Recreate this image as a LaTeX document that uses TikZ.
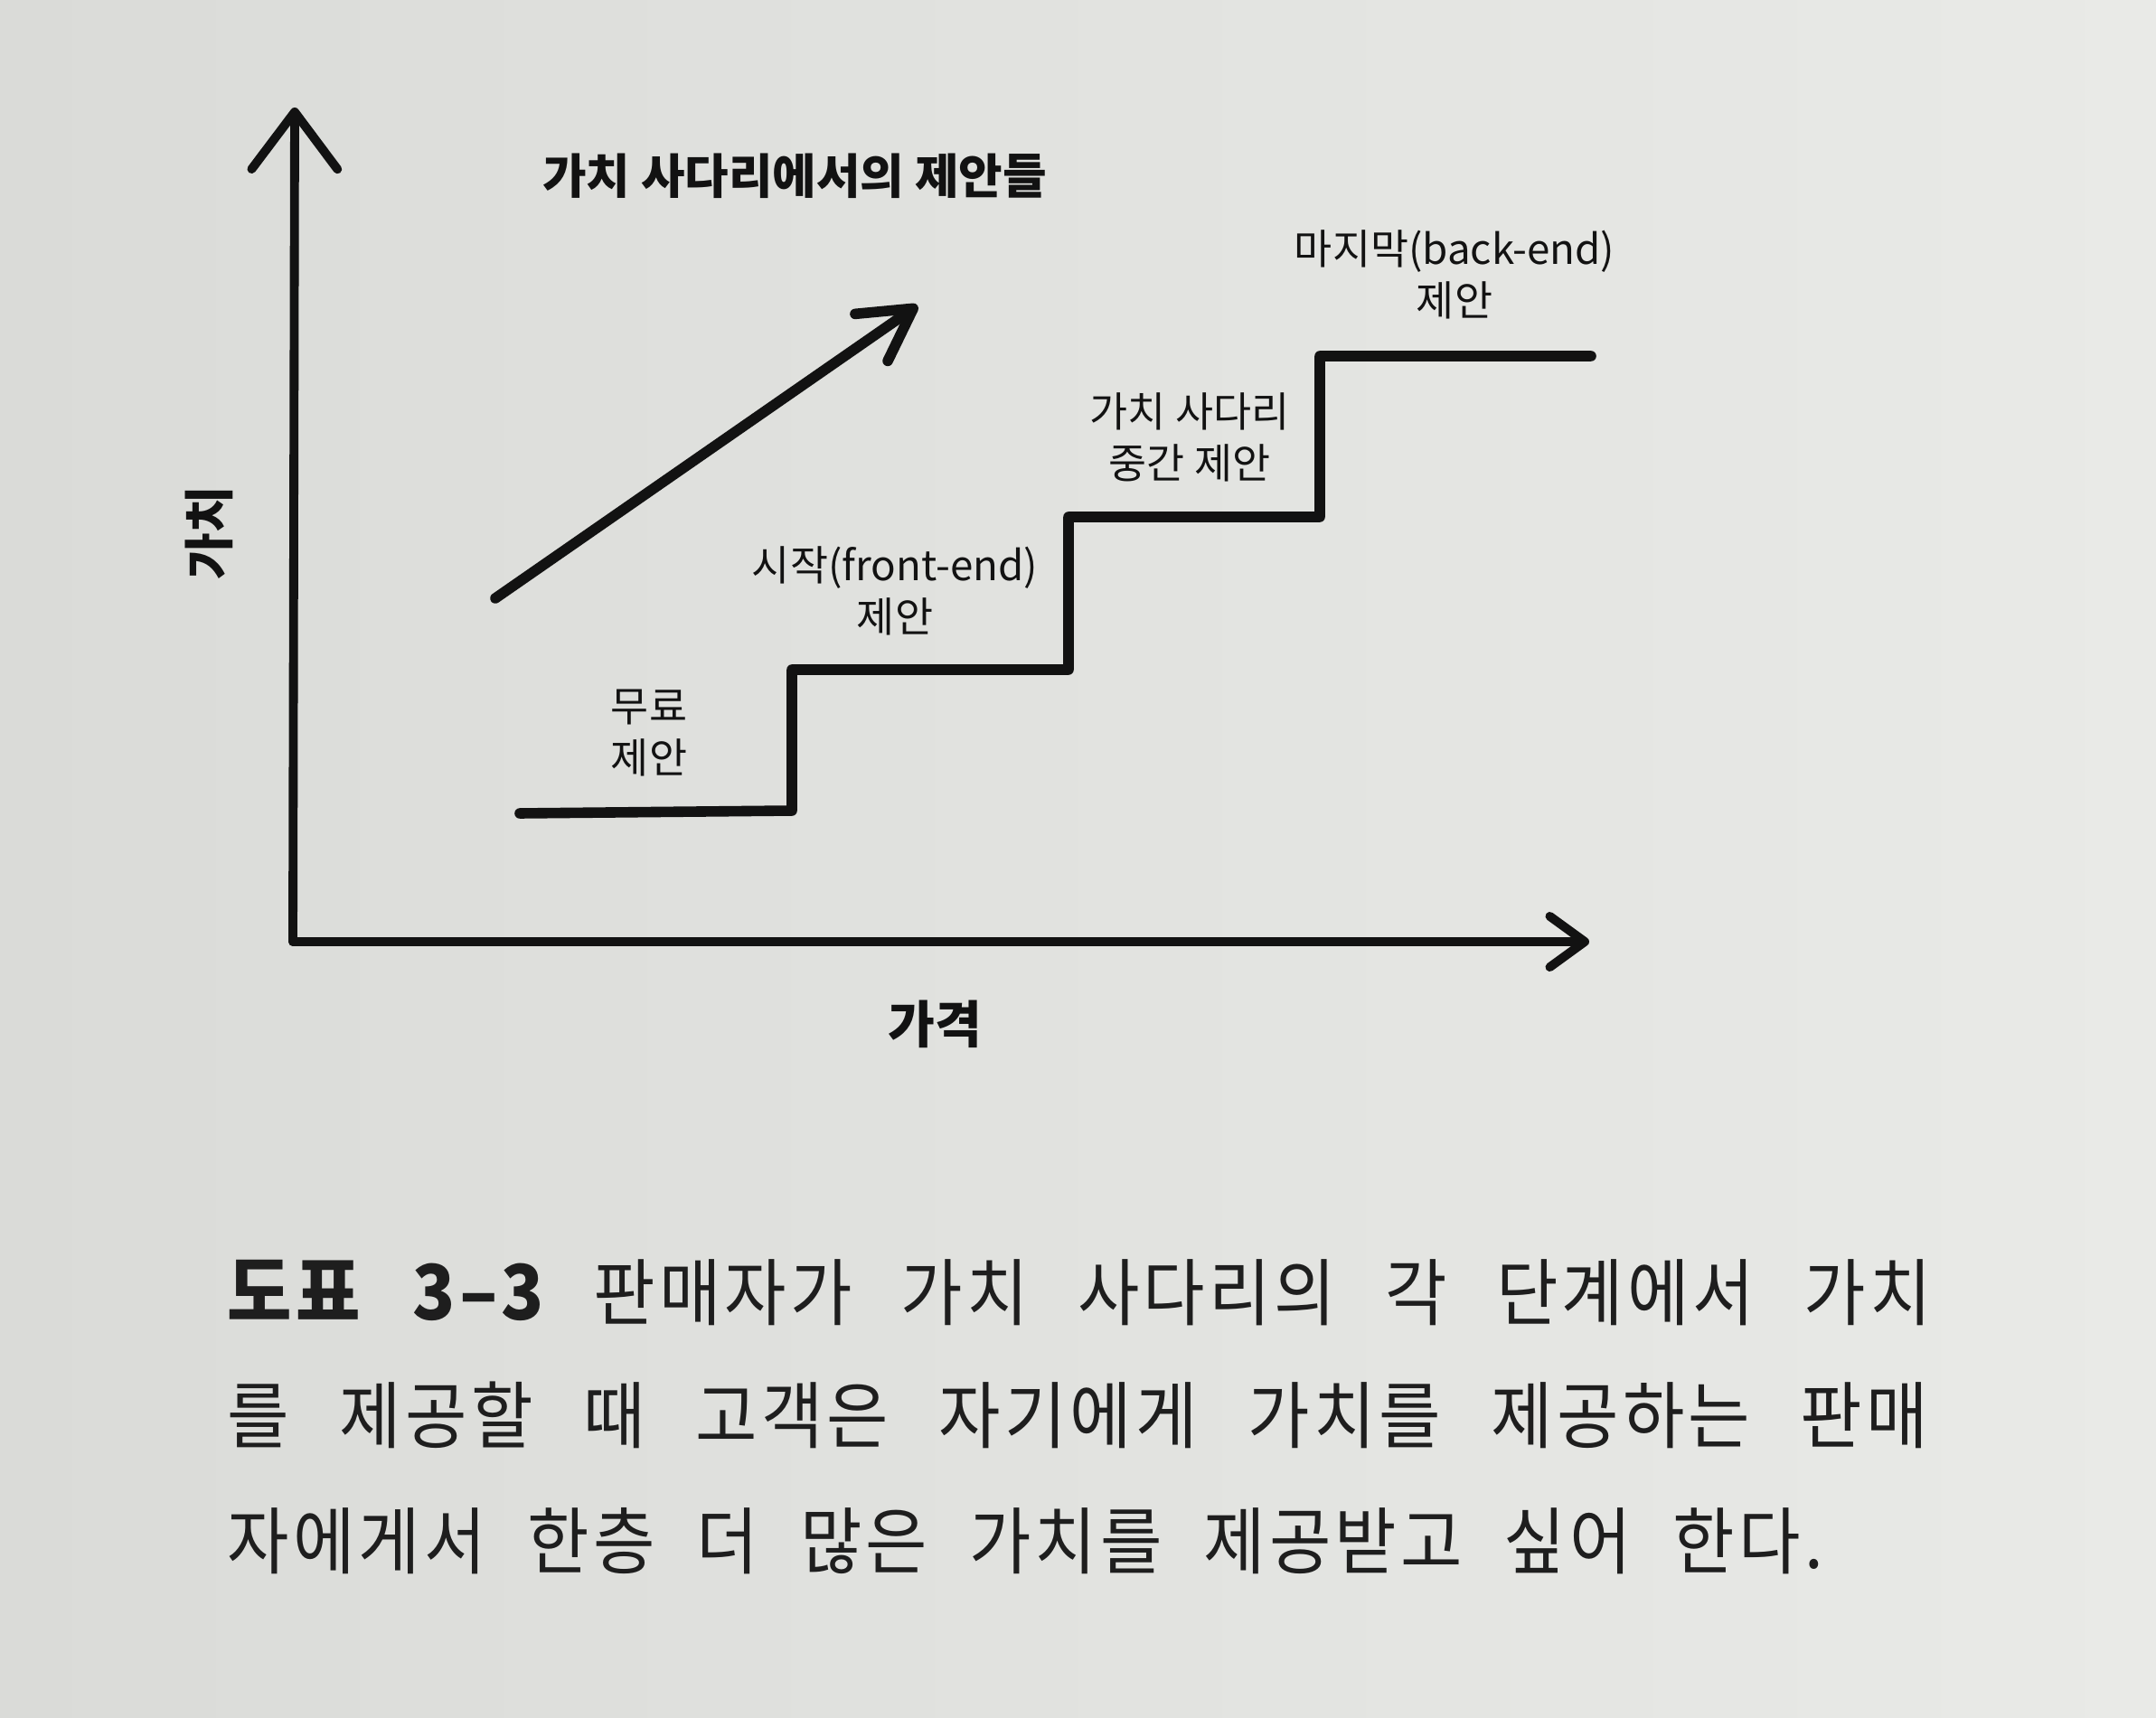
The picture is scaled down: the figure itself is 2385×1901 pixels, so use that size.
\documentclass[tikz,border=0pt]{standalone}
\usepackage{fontspec}
\setmainfont{Noto Sans CJK KR}
\newfontfamily\capfont{Noto Sans CJK KR}[FakeStretch=0.92, LetterSpace=5]
\usetikzlibrary{arrows.meta,positioning}
\definecolor{paperl}{RGB}{218,219,216}
\definecolor{paperr}{RGB}{233,234,231}
\definecolor{ink}{RGB}{18,18,18}
\definecolor{capink}{RGB}{30,30,30}
\tikzset{>={Straight Barb[round]}}

\begin{document}
\begin{tikzpicture}[x=0.01cm,y=-0.01cm,
    lbl/.style={align=center, inner sep=0pt, text=ink, font=\fontsize{13}{16}\selectfont},
    ttl/.style={inner sep=0pt, text=ink, font=\bfseries\fontsize{15}{18}\selectfont},
    axlbl/.style={inner sep=0pt, text=ink, font=\bfseries\fontsize{16}{19}\selectfont},
    axis/.style={line width=2.8pt, draw=ink, line cap=round},
    stair/.style={line width=3.3pt, draw=ink, line cap=round, line join=round},
    captext/.style={anchor=west, inner sep=0pt, text=capink, font=\capfont\fontsize{23}{27}\selectfont}]
    % background
    \shade[left color=paperl, right color=paperr] (0,0) rectangle (2385,1901);
    \useasboundingbox (0,0) rectangle (2385,1901);
    % axes
    \coordinate (o) at (324,1042);
    \coordinate (ytip) at (326,119);
    \coordinate (xtip) at (1758,1042);
    \draw[axis, -{Straight Barb[round, length=18pt, width=27pt]}] (o) -- (ytip);
    \draw[axis, -{Straight Barb[round, length=11pt, width=16pt]}] (o) -- (xtip);
    \node[axlbl, rotate=90] (vlbl) at (231,590) {가치};
    \node[axlbl] (plbl) at (1034,1133) {가격};
    % title and rising arrow
    \node[ttl] (title) at (879,195) {가치 사다리에서의 제안들};
    \coordinate (r0) at (548,662);
    \coordinate (r1) at (1015,338);
    \draw[stair, -{Straight Barb[round, length=16pt, width=18pt]}] (r0) -- (r1);
    % stairs
    \coordinate (s0) at (575,900);
    \coordinate (s1) at (876,897);
    \coordinate (s2) at (876,741);
    \coordinate (s3) at (1182,741);
    \coordinate (s4) at (1182,572);
    \coordinate (s5) at (1460,572);
    \coordinate (s6) at (1460,394);
    \coordinate (s7) at (1760,394);
    \draw[stair] (s0) -- (s1) -- (s2) -- (s3) -- (s4) -- (s5) -- (s6) -- (s7);
    \node[lbl] (free) at (718,811) {무료\\제안};
    \node[lbl] (front) at (990,654) {시작(front-end)\\제안};
    \node[lbl] (mid) at (1316,484) {가치 사다리\\중간 제안};
    \node[lbl] (back) at (1609,304) {마지막(back-end)\\제안};
    % caption
    \node[captext] (cap1) at (251,1430) {\makebox[18.84cm][s]{{\bfseries\fontsize{24}{27}\selectfont 도표 3–3} 판매자가 가치 사다리의 각 단계에서 가치}};
    \node[captext] (cap2) at (251,1566) {\makebox[18.8cm][s]{를 제공할 때 고객은 자기에게 가치를 제공하는 판매}};
    \node[captext] (cap3) at (251,1705) {\makebox[17.64cm][s]{자에게서 한층 더 많은 가치를 제공받고 싶어 한다.}};
\end{tikzpicture}
\end{document}
